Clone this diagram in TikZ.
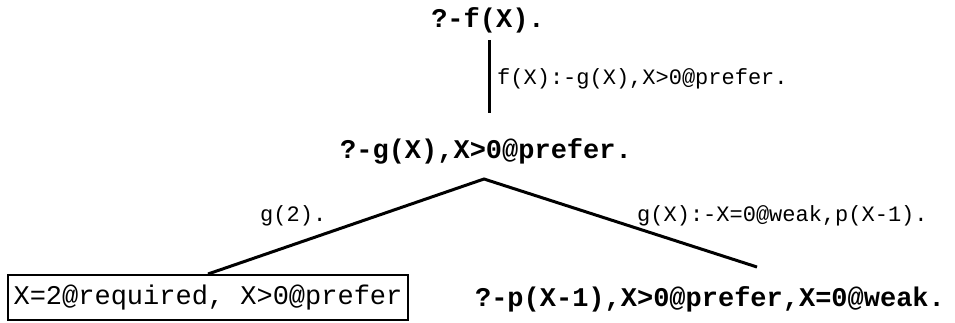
\documentclass[tikz,border=0pt]{standalone}
\usepackage{fontspec}
\newfontfamily\cour{Liberation Mono}
\begin{document}
\begin{tikzpicture}[x=1pt,y=-1pt,
  goal/.style={font=\cour\bfseries\fontsize{27}{30}\selectfont, inner sep=0pt, anchor=base},
  lab/.style={font=\cour\fontsize{22}{26}\selectfont, inner sep=0pt, anchor=base west},
  leaf/.style={draw, line width=2pt, font=\cour\fontsize{27}{30}\selectfont, inner sep=0pt,
    minimum width=400pt, minimum height=45pt},
  edge/.style={line width=3pt}]
\useasboundingbox (0,0) rectangle (955,323);
\node[goal] (g1) at (488,28) {?-f(X).};
\node[goal] (g2) at (486,159) {?-g(X),X>0@prefer.};
\node[goal] (g3) at (710,306) {?-p(X-1),X>0@prefer,X=0@weak.};
\node[leaf] (b1) at (208,297.5) {X=2@required, X>0@prefer};
\coordinate (v1) at (489,40);
\coordinate (v2) at (489,113);
\coordinate (apex) at (484,179);
\coordinate (rend) at (757,267);
\draw[edge] (v1) -- (v2);
\draw[edge] (b1.north) -- (apex) -- (rend);
\node[lab] (l1) at (497,85) {f(X):-g(X),X>0@prefer.};
\node[lab] (l2) at (260,222) {g(2).};
\node[lab] (l3) at (637,222) {g(X):-X=0@weak,p(X-1).};
\end{tikzpicture}
\end{document}
